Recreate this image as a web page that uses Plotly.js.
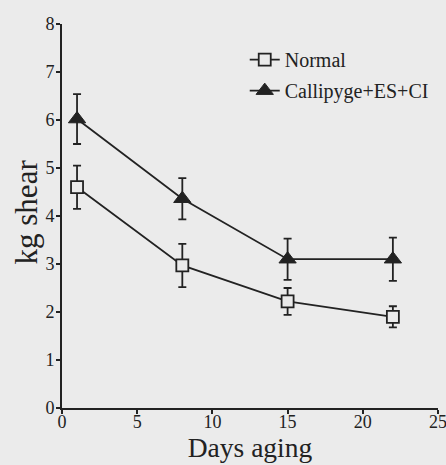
<!DOCTYPE html>
<html>
<head>
<meta charset="utf-8">
<script src="https://cdn.plot.ly/plotly-3.0.1.min.js"></script>
<style>html,body{margin:0;padding:0;background:#ebebeb;}</style>
</head>
<body>
<div id="chart" style="width:446px;height:465px;"></div>
<script>
const days = [1, 8, 15, 22];
const normalShear = [4.6, 2.97, 2.22, 1.9];
const normalErr = [0.45, 0.45, 0.28, 0.22];
const callipygeShear = [6.02, 4.36, 3.1, 3.1];
const callipygeErr = [0.52, 0.43, 0.43, 0.45];
const seriesNames = ['Normal', 'Callipyge+ES+CI'];
const xTicks = [0, 5, 10, 15, 20, 25];
const yTicks = [0, 1, 2, 3, 4, 5, 6, 7, 8];

const ink = '#222222';
const bg = '#ebebeb';

const traces = [
  {
    x: days, y: normalShear, name: seriesNames[0], type: 'scatter', mode: 'lines+markers',
    legendgroup: 'a',
    line: {color: ink, width: 1.8},
    marker: {symbol: 'square', size: 12, color: bg, line: {color: ink, width: 1.8}},
    error_y: {type: 'data', array: normalErr, visible: true, color: ink, thickness: 1.8, width: 4}
  },
  {
    x: days, y: callipygeShear, name: seriesNames[1], type: 'scatter', mode: 'lines+markers',
    legendgroup: 'b',
    line: {color: ink, width: 1.8},
    marker: {symbol: 'triangle-up', size: 15, color: ink, line: {color: ink, width: 1}},
    error_y: {type: 'data', array: callipygeErr, visible: true, color: ink, thickness: 1.8, width: 4}
  }
];

const layout = {
  width: 446, height: 465,
  paper_bgcolor: bg, plot_bgcolor: bg,
  margin: {l: 62, r: 8, t: 24, b: 57},
  font: {family: '"Liberation Serif", "Times New Roman", serif', color: ink, size: 18},
  showlegend: true,
  legend: {
    x: 0.486, y: 0.958, xanchor: 'left', yanchor: 'top',
    bgcolor: 'rgba(0,0,0,0)', font: {size: 20, color: ink},
    traceorder: 'grouped', tracegroupgap: 2
  },
  xaxis: {
    range: [0, 25], tickvals: xTicks, ticktext: xTicks.map(String),
    showgrid: false, zeroline: false, showline: true, linecolor: ink, linewidth: 2,
    ticks: 'outside', ticklen: 4, tickwidth: 2, tickcolor: ink,
    tickfont: {size: 18, family: '"Liberation Serif", serif'}, ticklabelstandoff: -8, ticklabeloverflow: 'allow',
    title: {text: 'Days aging', font: {size: 27.5}, standoff: 5}
  },
  yaxis: {
    range: [0, 8], tickvals: yTicks, ticktext: yTicks.map(String),
    showgrid: false, zeroline: false, showline: true, linecolor: ink, linewidth: 2,
    ticks: 'outside', ticklen: 4, tickwidth: 2, tickcolor: ink,
    tickfont: {size: 18, family: '"Liberation Serif", serif'}, ticklabelstandoff: -2
  },
  annotations: [{
    text: 'kg shear', textangle: -90, showarrow: false,
    xref: 'paper', yref: 'paper', x: -0.095, y: 0.51,
    xanchor: 'center', yanchor: 'middle',
    font: {size: 31, color: ink}
  }]
};

Plotly.newPlot('chart', traces, layout, {displayModeBar: false, staticPlot: true});
</script>
</body>
</html>
